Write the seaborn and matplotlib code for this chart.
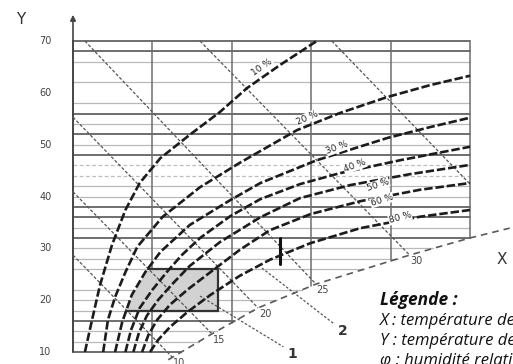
import numpy as np
import pandas as pd
import matplotlib
matplotlib.use("Agg")
import matplotlib.pyplot as plt
import seaborn as sns

sns.set_style("white")
plt.rcParams["font.family"] = ["DejaVu Sans"]

# ---------------- data ----------------
# horizontal scale u: one unit per vertical grid column (0 = Y axis, 5 = right frame)
y_ticks = [10, 20, 30, 40, 50, 60, 70]
grid_cols = [0, 1, 2, 3, 4, 5]
hl_thick = [70, 68, 56, 52, 48, 38, 36, 32, 16, 10]
hl_light = [66, 62, 58, 54, 50, 42, 40, 34, 30, 28, 26, 22, 20, 18, 14, 12]
hl_dashed = [46, 44]

rh_labels = ["10 %", "20 %", "30 %", "40 %", "50 %", "60 %", "80 %"]
rh10_u = [0.15, 0.24, 0.34, 0.49, 0.66, 0.84, 1.10, 1.47, 1.85, 2.19, 2.61, 3.07]
rh10_Y = [10, 16.2, 22.9, 30.6, 37.4, 42.6, 47.4, 51.9, 56.3, 60.9, 65.4, 70]
rh20_u = [0.38, 0.44, 0.53, 0.66, 0.81, 1.13, 1.60, 2.10, 2.82, 3.36, 3.96, 4.50, 5.0]
rh20_Y = [10, 16.2, 20.6, 25.4, 30.3, 36.1, 41.8, 46.5, 52.8, 56.1, 59.2, 61.5, 63.3]
rh30_u = [0.53, 0.62, 0.74, 0.91, 1.10, 1.47, 1.98, 2.36, 3.07, 3.96, 4.50, 5.0]
rh30_Y = [10, 15.8, 21.0, 25.4, 29.3, 34.5, 39.3, 42.6, 47.0, 51.3, 53.4, 55.2]
rh40_u = [0.66, 0.73, 0.84, 1.00, 1.18, 1.37, 1.60, 1.98, 2.36, 2.86, 3.36, 4.12, 5.0]
rh40_Y = [10, 14.2, 18.5, 22.0, 25.4, 28.7, 32.0, 36.2, 39.5, 42.4, 44.5, 47.0, 49.6]
rh50_u = [0.76, 0.83, 0.93, 1.07, 1.25, 1.47, 1.85, 2.36, 2.86, 3.49, 4.24, 5.0]
rh50_Y = [10, 13.7, 17.0, 20.0, 23.1, 26.6, 31.2, 36.0, 39.7, 42.2, 44.3, 46.1]
rh60_u = [0.87, 0.95, 1.06, 1.22, 1.44, 1.73, 2.10, 2.48, 2.99, 3.62, 4.37, 5.0]
rh60_Y = [10, 13.3, 16.2, 19.1, 22.0, 25.4, 29.7, 33.5, 36.6, 39.1, 41.3, 42.6]
rh80_u = [0.97, 1.07, 1.22, 1.44, 1.73, 2.10, 2.48, 2.99, 3.62, 4.37, 5.0]
rh80_Y = [10, 12.3, 14.8, 17.7, 21.0, 24.7, 27.8, 31.0, 33.9, 36.1, 37.4]

rh_label_u = [2.38, 2.95, 3.33, 3.55, 3.84, 3.89, 4.12]
rh_label_Y = [65.0, 55.2, 49.4, 45.9, 42.2, 39.3, 35.9]
rh_label_rot = [35, 24, 20, 20, 18, 17, 15]

# X axis (saturation curve)
sat_u = [1.20, 1.75, 2.33, 3.06, 4.24, 5.00, 5.50]
sat_Y = [8.5, 13.5, 18.5, 23.1, 28.7, 32.0, 33.9]

# lines of constant X
iso_labels = ["10", "15", "20", "25", "30", ""]
iso_top_u = [0.0, 0.0, 0.0, 0.15, 1.60, 3.26]
iso_top_Y = [28.7, 40.9, 55.3, 70.0, 70.0, 70.0]
iso_bot_u = [1.25, 1.75, 2.33, 3.06, 4.24, 5.00]
iso_bot_Y = [9.0, 13.5, 18.5, 23.1, 28.7, 42.4]

zone1_Y = [18, 26]
zone1_u_right = 1.83
zone2_u = 2.61
zone2_Y = [27, 32]

leader_labels = ["1", "2"]
leader_from_u = [1.60, 2.38]
leader_from_Y = [20.8, 26.2]
leader_to_u = [2.65, 3.29]
leader_to_Y = [11.0, 15.4]

legend_lines = ["X : température de l'air sec",
                "Y : température de surface",
                "φ : humidité relative de l'air"]

# ---------------- figure ----------------
fig = plt.figure(figsize=(5.13, 3.64), dpi=100)
ax = fig.add_axes([0, 0, 1, 1])

def sat_u_at(Y):
    return min(5.0, float(np.interp(Y, sat_Y, sat_u)))

def sat_Y_at(u):
    return max(10.0, float(np.interp(u, sat_u, sat_Y)))

# horizontal grid
for Y in hl_light:
    ax.plot([0, sat_u_at(Y)], [Y, Y], color="#b9b9b9", lw=0.9, zorder=1)
for Y in hl_dashed:
    ax.plot([0, sat_u_at(Y)], [Y, Y], color="#bdbdbd", lw=0.9,
            linestyle=(0, (3, 2)), zorder=1)
for Y in hl_thick:
    ax.plot([0, sat_u_at(Y)], [Y, Y], color="#555555", lw=1.2, zorder=2)

# vertical grid
for u in grid_cols:
    bottom = 10.0 if u == 0 else sat_Y_at(u)
    ax.plot([u, u], [bottom, 70], color="#444444" if u == 0 else "#6e6e6e",
            lw=1.4 if u == 0 else 1.1, zorder=2)

# Y axis arrow
ax.annotate("", xy=(0, 75.6), xytext=(0, 69.5),
            arrowprops=dict(arrowstyle="-|>", color="#444444", lw=1.2,
                            mutation_scale=8))

# constant-X lines
for i in range(len(iso_labels)):
    ax.plot([iso_top_u[i], iso_bot_u[i]], [iso_top_Y[i], iso_bot_Y[i]],
            color="#555555", lw=0.9, linestyle=(0, (2.5, 1.5)), zorder=3)
    if iso_labels[i]:
        ax.annotate(iso_labels[i], xy=(iso_bot_u[i], iso_bot_Y[i]),
                    xytext=(7, -6), textcoords="offset pixels",
                    ha="center", va="center", fontsize=7, color="#444444")

# zone 1 (shaded)
Ys = np.linspace(zone1_Y[0], zone1_Y[1], 40)
left = np.interp(Ys, rh30_Y, rh30_u)
ax.fill_betweenx(Ys, left, zone1_u_right, color="#d2d2d2", zorder=2.5, lw=0)
ax.plot([left[-1], zone1_u_right, zone1_u_right, left[0]],
        [zone1_Y[1], zone1_Y[1], zone1_Y[0], zone1_Y[0]],
        color="#333333", lw=1.6, zorder=4)

# zone 2 (bar)
ax.plot([zone2_u, zone2_u], zone2_Y, color="#111111", lw=2.2, zorder=5)

# humidity curves
curves = [(rh10_u, rh10_Y), (rh20_u, rh20_Y), (rh30_u, rh30_Y), (rh40_u, rh40_Y),
          (rh50_u, rh50_Y), (rh60_u, rh60_Y), (rh80_u, rh80_Y)]
frames = []
for lab, (u, Y) in zip(rh_labels, curves):
    frames.append(pd.DataFrame({"u": u, "Y": Y, "curve": lab}))
df = pd.concat(frames, ignore_index=True)
sns.lineplot(data=df, x="u", y="Y", units="curve", estimator=None, sort=False,
             color="#1c1c1c", lw=1.9, linestyle=(0, (3.2, 1.1)), legend=False,
             ax=ax, zorder=6)

# saturation curve / X axis
sns.lineplot(x=sat_u, y=sat_Y, sort=False, color="#5a5a5a", lw=1.2,
             linestyle=(0, (4, 3)), ax=ax, zorder=5)

# curve labels
for lab, u, Y, r in zip(rh_labels, rh_label_u, rh_label_Y, rh_label_rot):
    ax.text(u, Y, lab, rotation=r, ha="center", va="center", fontsize=6.5,
            color="#222222", zorder=7,
            bbox=dict(boxstyle="square,pad=0.05", fc="white", ec="none"))

# leaders
for i, lab in enumerate(leader_labels):
    ax.plot([leader_from_u[i], leader_to_u[i]], [leader_from_Y[i], leader_to_Y[i]],
            color="#555555", lw=0.9, linestyle=(0, (2, 1.5)), zorder=4)
    ax.annotate(lab, xy=(leader_to_u[i], leader_to_Y[i]), xytext=(9, -7),
                textcoords="offset pixels", ha="center", va="center",
                fontsize=10, fontweight="bold", color="#333333")

# tick labels
for t in y_ticks:
    ax.text(-0.35, t, str(t), ha="center", va="center", fontsize=7,
            color="#444444")

ax.text(5.40, 27.9, "X", ha="center", va="center", fontsize=11, color="#333333")
fig.text(21 / 513, 1 - 19 / 364, "Y", ha="center", va="center", fontsize=11,
         color="#333333")

# legend block
fig.text(380 / 513, 1 - 305 / 364, "Légende :", ha="left", va="baseline",
         fontsize=12.5, fontweight="bold", fontstyle="italic",
         family=["Open Sans", "DejaVu Sans"], color="#111111")
for k, line in enumerate(legend_lines):
    fig.text(380 / 513, 1 - (325 + 20 * k) / 364, line, ha="left", va="baseline",
             fontsize=12, fontstyle="italic", family=["Open Sans", "DejaVu Sans"],
             color="#111111")

ax.set_xlim(-73 / 79.4, (513 - 73) / 79.4)
ax.set_ylim(10 - (364 - 352) / 5.183, 10 + 352 / 5.183)
ax.axis("off")

fig.savefig("out.png", dpi=100)
